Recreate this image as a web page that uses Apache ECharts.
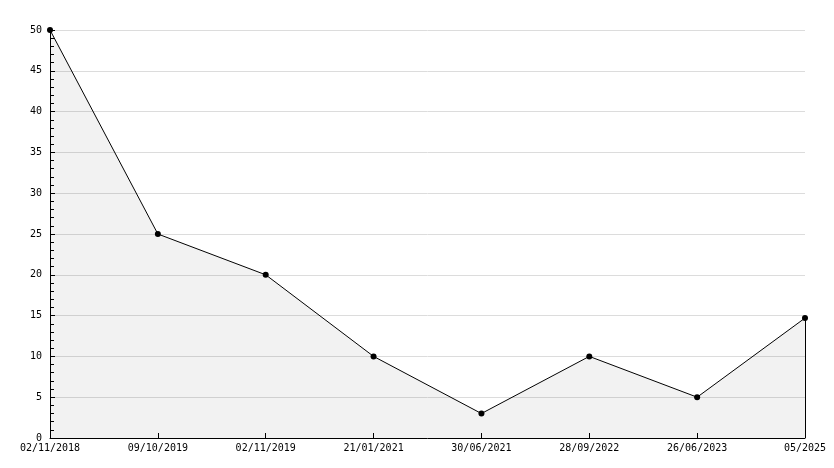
<!DOCTYPE html>
<html><head><meta charset="utf-8">
<script src="https://cdn.jsdelivr.net/npm/echarts@6/dist/echarts.min.js"></script>
<style>html,body{margin:0;padding:0;background:#fff}#c{width:834px;height:468px}</style>
</head><body><div id="c"></div>
<script>
const categories = ['02/11/2018','09/10/2019','02/11/2019','21/01/2021','30/06/2021','28/09/2022','26/06/2023','05/2025'];
const values = [50, 25, 20, 10, 3, 10, 5, 14.7];
const yTicks = {min: 0, max: 50, interval: 5};
const font = 'DejaVu Sans Mono';
const chart = echarts.init(document.getElementById('c'));
chart.setOption({
  animation: false,
  grid: {left: 50, right: 29, top: 30, bottom: 30, containLabel: false},
  xAxis: {
    type: 'category', data: categories, boundaryGap: false, z: 10,
    axisLine: {lineStyle: {color: '#000', width: 1}},
    axisTick: {inside: true, length: 5, lineStyle: {color: '#000'}, alignWithLabel: true},
    axisLabel: {color: '#000', fontFamily: font, fontSize: 10, margin: 5, interval: 0},
    splitLine: {show: false}
  },
  yAxis: [{
    type: 'value', min: yTicks.min, max: yTicks.max, interval: yTicks.interval,
    axisLine: {show: false},
    axisTick: {show: false},
    axisLabel: {color: '#000', fontFamily: font, fontSize: 10, margin: 8},
    splitLine: {show: true, lineStyle: {color: '#dcdcdc', width: 1}}
  }, {
    type: 'value', min: yTicks.min, max: yTicks.max, interval: yTicks.interval, z: 10, position: 'left', offset: 0,
    axisLine: {show: true, lineStyle: {color: '#000', width: 1}},
    axisTick: {show: true, inside: true, length: 5, lineStyle: {color: '#000'}},
    minorTick: {show: true, splitNumber: 5, length: 4, lineStyle: {color: '#000'}},
    axisLabel: {show: false},
    splitLine: {show: false}
  }],
  series: [{
    type: 'line', data: values, yAxisIndex: 0,
    symbol: 'circle', symbolSize: 6,
    itemStyle: {color: '#000'},
    lineStyle: {color: '#000', width: 1},
    areaStyle: {color: '#000', opacity: 0.052},
    markLine: {
      silent: true, symbol: 'none', label: {show: false},
      lineStyle: {color: '#000', width: 1, type: 'solid'},
      data: [[{coord: [categories.length - 1, 0]}, {coord: [categories.length - 1, values[values.length - 1]]}]]
    }
  }]
});
</script></body></html>
